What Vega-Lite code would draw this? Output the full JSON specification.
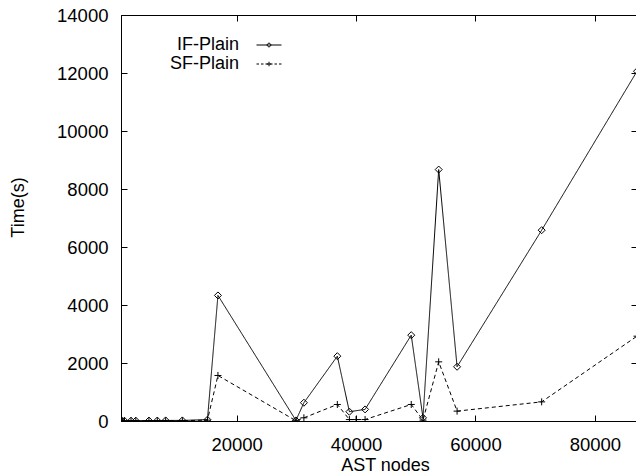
{
  "$schema": "https://vega.github.io/schema/vega-lite/v6.json",
  "autosize": {"type": "none"},
  "padding": {"left": 121, "top": 15, "right": 0, "bottom": 54},
  "width": 516,
  "height": 406,
  "background": "white",
  "config": {
    "view": {"stroke": "black", "strokeWidth": 1},
    "font": "Liberation Sans",
    "axis": {
      "grid": false,
      "domainColor": "black",
      "tickColor": "black",
      "labelColor": "black",
      "titleColor": "black",
      "labelFont": "Liberation Sans",
      "titleFont": "Liberation Sans",
      "labelFontSize": 18.5,
      "titleFontSize": 18,
      "titleFontWeight": "normal",
      "tickSize": -6
    }
  },
  "data": {
    "values": [
      {"nodes": 620, "time": 5, "series": "IF-Plain"},
      {"nodes": 800, "time": 5, "series": "IF-Plain"},
      {"nodes": 1200, "time": 8, "series": "IF-Plain"},
      {"nodes": 2300, "time": 10, "series": "IF-Plain"},
      {"nodes": 3100, "time": 10, "series": "IF-Plain"},
      {"nodes": 5300, "time": 15, "series": "IF-Plain"},
      {"nodes": 6700, "time": 15, "series": "IF-Plain"},
      {"nodes": 8100, "time": 20, "series": "IF-Plain"},
      {"nodes": 10900, "time": 20, "series": "IF-Plain"},
      {"nodes": 15100, "time": 45, "series": "IF-Plain"},
      {"nodes": 16860, "time": 4330, "series": "IF-Plain"},
      {"nodes": 29920, "time": 20, "series": "IF-Plain"},
      {"nodes": 31260, "time": 630, "series": "IF-Plain"},
      {"nodes": 36860, "time": 2235, "series": "IF-Plain"},
      {"nodes": 38880, "time": 320, "series": "IF-Plain"},
      {"nodes": 41510, "time": 400, "series": "IF-Plain"},
      {"nodes": 49240, "time": 2960, "series": "IF-Plain"},
      {"nodes": 51210, "time": 110, "series": "IF-Plain"},
      {"nodes": 53840, "time": 8670, "series": "IF-Plain"},
      {"nodes": 56920, "time": 1870, "series": "IF-Plain"},
      {"nodes": 71090, "time": 6580, "series": "IF-Plain"},
      {"nodes": 87060, "time": 12060, "series": "IF-Plain"},
      {"nodes": 620, "time": 3, "series": "SF-Plain"},
      {"nodes": 800, "time": 3, "series": "SF-Plain"},
      {"nodes": 1200, "time": 4, "series": "SF-Plain"},
      {"nodes": 2300, "time": 5, "series": "SF-Plain"},
      {"nodes": 3100, "time": 5, "series": "SF-Plain"},
      {"nodes": 5300, "time": 8, "series": "SF-Plain"},
      {"nodes": 6700, "time": 8, "series": "SF-Plain"},
      {"nodes": 8100, "time": 10, "series": "SF-Plain"},
      {"nodes": 10900, "time": 12, "series": "SF-Plain"},
      {"nodes": 15100, "time": 30, "series": "SF-Plain"},
      {"nodes": 16860, "time": 1570, "series": "SF-Plain"},
      {"nodes": 29920, "time": 10, "series": "SF-Plain"},
      {"nodes": 31260, "time": 110, "series": "SF-Plain"},
      {"nodes": 36860, "time": 570, "series": "SF-Plain"},
      {"nodes": 38880, "time": 50, "series": "SF-Plain"},
      {"nodes": 40000, "time": 50, "series": "SF-Plain"},
      {"nodes": 41510, "time": 50, "series": "SF-Plain"},
      {"nodes": 49240, "time": 570, "series": "SF-Plain"},
      {"nodes": 51210, "time": 30, "series": "SF-Plain"},
      {"nodes": 53840, "time": 2040, "series": "SF-Plain"},
      {"nodes": 56920, "time": 340, "series": "SF-Plain"},
      {"nodes": 71090, "time": 660, "series": "SF-Plain"},
      {"nodes": 87060, "time": 2925, "series": "SF-Plain"}
    ]
  },
  "layer": [
    {
      "mark": {"type": "line", "color": "black", "strokeWidth": 1, "clip": true},
      "encoding": {
        "x": {
          "field": "nodes", "type": "quantitative",
          "scale": {"domain": [620, 87060], "nice": false, "zero": false},
          "axis": {
            "values": [20000, 40000, 60000, 80000],
            "format": "d",
            "title": "AST nodes",
            "labelPadding": 20,
            "titleX": 264,
            "titleY": 44,
            "titleBaseline": "middle",
            "titleAlign": "center"
          }
        },
        "y": {
          "field": "time", "type": "quantitative",
          "scale": {"domain": [0, 14000], "nice": false},
          "axis": {
            "values": [0, 2000, 4000, 6000, 8000, 10000, 12000, 14000],
            "format": "d",
            "title": "Time(s)",
            "labelPadding": 19,
            "titleX": -103,
            "titleY": 192,
            "titleBaseline": "middle",
            "titleAlign": "center"
          }
        },
        "strokeDash": {
          "field": "series", "type": "nominal",
          "scale": {"domain": ["IF-Plain", "SF-Plain"], "range": [[1, 0], [4, 3]]},
          "legend": null
        }
      }
    },
    {
      "mark": {"type": "point", "filled": false, "color": "black", "strokeWidth": 1, "size": 49, "opacity": 1, "clip": true},
      "encoding": {
        "x": {"field": "nodes", "type": "quantitative", "axis": null},
        "y": {"field": "time", "type": "quantitative", "axis": null},
        "shape": {
          "field": "series", "type": "nominal",
          "scale": {"domain": ["IF-Plain", "SF-Plain"], "range": ["M0,-1L1,0L0,1L-1,0Z", "M-1,0L1,0M0,-1L0,1"]},
          "legend": null
        }
      }
    },
    {
      "transform": [{"filter": "datum.nodes < 0"}],
      "mark": {"type": "point", "filled": false, "color": "black", "strokeWidth": 1, "size": 240, "opacity": 1},
      "encoding": {
        "x": {
          "field": "nodes", "type": "quantitative",
          "axis": {"orient": "top", "labels": false, "domain": false, "title": null, "values": [20000, 40000, 60000, 80000]}
        },
        "y": {
          "field": "time", "type": "quantitative",
          "axis": {"orient": "right", "labels": false, "domain": false, "title": null, "values": [0, 2000, 4000, 6000, 8000, 10000, 12000, 14000]}
        },
        "shape": {
          "field": "series", "type": "nominal",
          "scale": {
            "domain": ["IF-Plain", "SF-Plain"],
            "range": [
              "M-2.5,0L2.5,0M0,-0.45L0.45,0L0,0.45L-0.45,0Z",
              "M-2.5,0L-2,0M-1.6,0L-1.1,0M-0.7,0L-0.2,0M0.2,0L0.7,0M1.1,0L1.6,0M2,0L2.5,0M-0.45,0L0.45,0M0,-0.45L0,0.45"
            ]
          },
          "legend": {
            "orient": "none",
            "legendX": 139,
            "legendY": 21,
            "title": null,
            "padding": 0,
            "rowPadding": 1,
            "labelAlign": "right",
            "labelOffset": -39,
            "labelFont": "Liberation Sans",
            "labelFontSize": 18,
            "labelColor": "black",
            "symbolStrokeColor": "black",
            "symbolStrokeWidth": 1,
            "symbolOpacity": 1
          }
        }
      }
    }
  ],
  "resolve": {
    "scale": {"shape": "independent"},
    "axis": {"x": "independent", "y": "independent"}
  }
}
